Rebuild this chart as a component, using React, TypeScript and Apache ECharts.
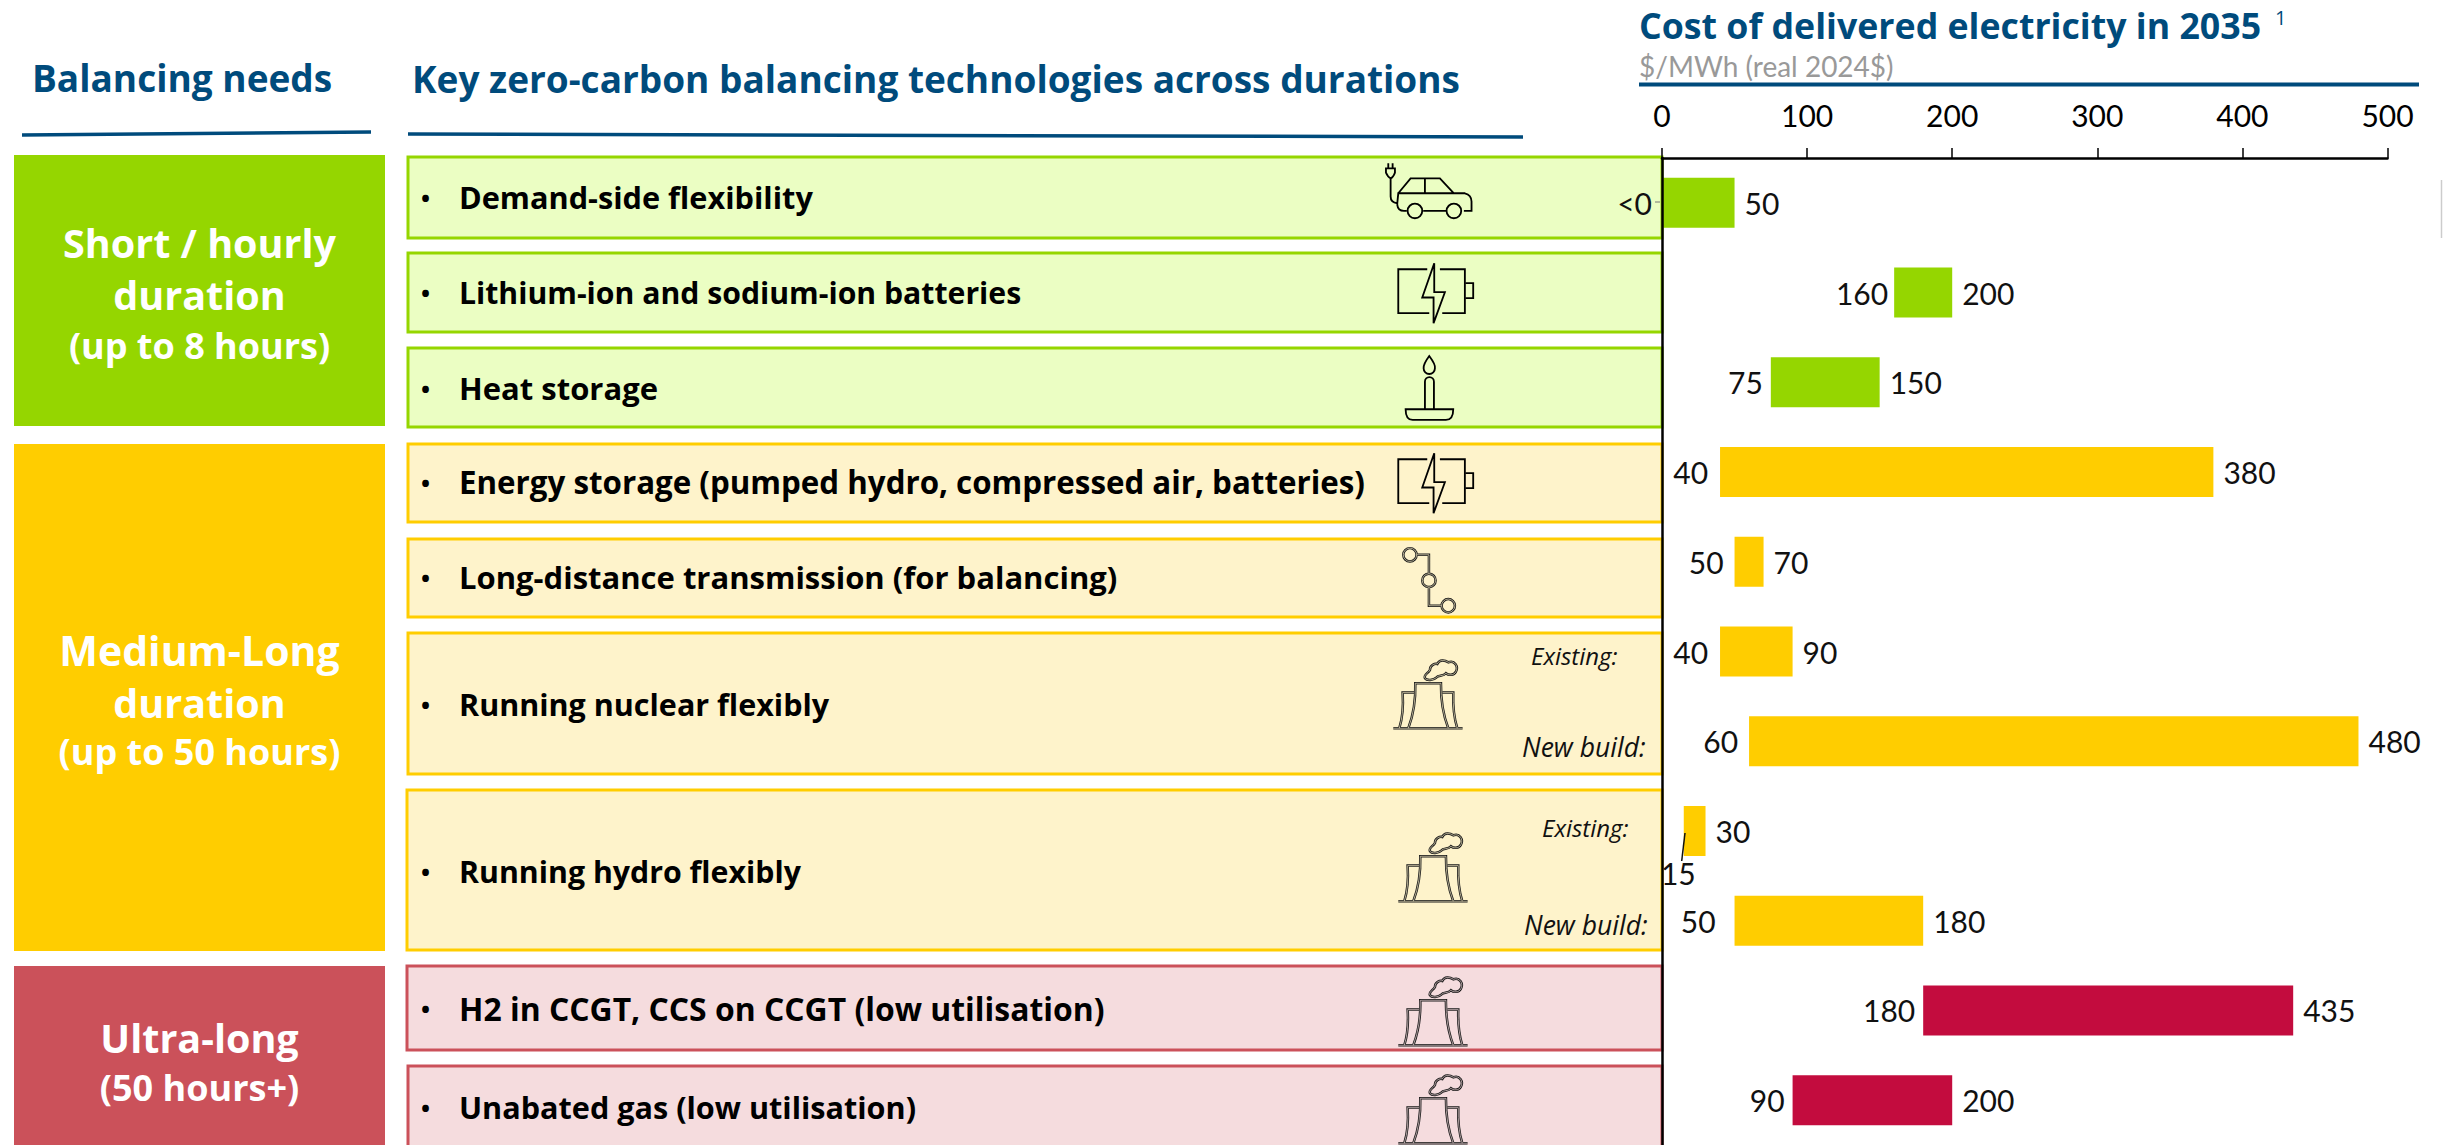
import React, { useEffect, useRef } from "react";
import * as echarts from "echarts";

const categories = [
  "Demand-side flexibility",
  "Lithium-ion and sodium-ion batteries",
  "Heat storage",
  "Energy storage",
  "Long-distance transmission",
  "Nuclear existing",
  "Nuclear new build",
  "Hydro existing",
  "Hydro new build",
  "H2 in CCGT, CCS on CCGT",
  "Unabated gas",
];
const lowValues = [0, 160, 75, 40, 50, 40, 60, 15, 50, 180, 90];
const highValues = [50, 200, 150, 380, 70, 90, 480, 30, 180, 435, 200];
const lowLabels = ["<0", "160", "75", "40", "50", "40", "60", "15", "50", "180", "90"];
const barGroups = ["g", "g", "g", "y", "y", "y", "y", "y", "y", "r", "r"];
const xTicks = [0, 100, 200, 300, 400, 500];

const FONT = "Lato";
const FONT_B = "Open Sans";
const BLUE = "#004B7C";
const BLACK = "#000000";
const GREEN = "#95D600";
const YELLOW = "#FFCD00";
const RED_BLOCK = "#CB515A";
const barColors: Record<string, string> = { g: GREEN, y: YELLOW, r: "#C30C3E" };
const theme: Record<string, { fill: string; stroke: string }> = {
  g: { fill: "#EBFEC3", stroke: GREEN },
  y: { fill: "#FEF3CB", stroke: YELLOW },
  r: { fill: "#F5DCDE", stroke: RED_BLOCK },
};

const blocks = [
  { y0: 155, y1: 426, color: GREEN, lines: [["Short / hourly", 243, 39.5], ["duration", 295, 39.5], ["(up to 8 hours)", 345, 36]] },
  { y0: 444, y1: 951, color: YELLOW, lines: [["Medium-Long", 650, 41], ["duration", 703, 39.5], ["(up to 50 hours)", 751, 36]] },
  { y0: 966, y1: 1150, color: RED_BLOCK, lines: [["Ultra-long", 1038, 39.5], ["(50 hours+)", 1087, 36]] },
];

const rows = [
  { x: 408, y0: 157, y1: 238, g: "g", text: "Demand-side flexibility", ty: 197, size: 30.7 },
  { x: 408, y0: 253, y1: 332, g: "g", text: "Lithium-ion and sodium-ion batteries", ty: 292, size: 30.2 },
  { x: 408, y0: 348, y1: 427, g: "g", text: "Heat storage", ty: 388, size: 31 },
  { x: 408, y0: 444, y1: 522, g: "y", text: "Energy storage (pumped hydro, compressed air, batteries)", ty: 482, size: 31.3 },
  { x: 408, y0: 539, y1: 617, g: "y", text: "Long-distance transmission (for balancing)", ty: 577, size: 31 },
  { x: 408, y0: 633, y1: 774, g: "y", text: "Running nuclear flexibly", ty: 704, size: 30.5 },
  { x: 407, y0: 790, y1: 950, g: "y", text: "Running hydro flexibly", ty: 871, size: 30.3 },
  { x: 407, y0: 966, y1: 1050, g: "r", text: "H2 in CCGT, CCS on CCGT (low utilisation)", ty: 1008, size: 31.9 },
  { x: 408, y0: 1066, y1: 1160, g: "r", text: "Unabated gas (low utilisation)", ty: 1107, size: 30.6 },
];

const notes = [
  ["Existing:", 1531, 655, 24],
  ["New build:", 1522, 747, 26.5],
  ["Existing:", 1542, 827, 24],
  ["New build:", 1524, 925, 26.5],
];

const carPath =
  "M145 40L145 55M158 40L158 55M138 55L165 55L165 68Q160 82 152 85Q144 82 138 68ZM152 85L152 140Q152 158 172 160L172 165Q174 183 192 183L200 183" +
  "M172 160L175 130L375 130Q395 135 395 155L395 183L372 183M175 130L212 85L300 85L342 130M255 85L255 130M250 183L318 183" +
  "M247 183A22 22 0 1 1 203 183A22 22 0 1 1 247 183ZM364 183A22 22 0 1 1 320 183A22 22 0 1 1 364 183Z";
const batteryPath =
  "M262 358L175 358L175 490L268 490M300 358L375 358L375 490L307 490M378 400L400 400L400 445L378 445" +
  "M283 340L247 443L281 443L281 520L315 427L283 427Z";
const candlePath =
  "M208 48Q228 75 225 85A17 17 0 0 1 191 85Q190 72 208 48ZM195 208L195 125A13.5 13.5 0 0 1 222 125L222 208" +
  "M137 208L280 208Q280 240 258 240L158 240Q137 240 137 208Z";
const linkPath =
  "M170 645A20 20 0 1 1 130 645A20 20 0 1 1 170 645ZM227 722A20 20 0 1 1 187 722A20 20 0 1 1 227 722ZM285 798A20 20 0 1 1 245 798A20 20 0 1 1 285 798Z" +
  "M170 645L207 645L207 702M207 742L207 798L245 798";
const towerPath =
  "M40 325L248 325M85 325Q108 265 106 190L183 190Q182 265 205 325M58 325Q72 280 68 218L102 218M188 218L220 218Q218 280 232 325" +
  "M135 175C130 165 145 160 150 150C150 135 165 130 172 132C178 118 195 120 205 127C225 120 236 140 228 155C222 168 205 166 198 160C190 170 175 165 170 172C160 182 140 182 135 175Z";

echarts.graphic.registerShape("iconCar", echarts.graphic.extendPath(carPath, {}));
echarts.graphic.registerShape("iconBattery", echarts.graphic.extendPath(batteryPath, {}));
echarts.graphic.registerShape("iconCandle", echarts.graphic.extendPath(candlePath, {}));
echarts.graphic.registerShape("iconLink", echarts.graphic.extendPath(linkPath, {}));
echarts.graphic.registerShape("iconTower", echarts.graphic.extendPath(towerPath, {}));

const solidIcons = [
  ["iconCar", 1340, 150],
  ["iconBattery", 1340, 150],
  ["iconCandle", 1360, 340],
  ["iconBattery", 1340, 340],
];
const hollowIcons = [
  ["iconLink", 1360, 340, "y"],
  ["iconTower", 1380, 620, "y"],
  ["iconTower", 1385, 793, "y"],
  ["iconTower", 1385, 937, "r"],
  ["iconTower", 1385, 1035, "r"],
];

function text(str: string, x: number, y: number, size: number, color: string, extra: any = {}) {
  return {
    type: "text",
    x,
    y,
    z: 3,
    silent: true,
    style: {
      text: str,
      fill: color,
      fontFamily: extra.family ?? FONT_B,
      fontSize: size,
      fontWeight: extra.weight ?? "normal",
      fontStyle: extra.italic ? "italic" : "normal",
      textAlign: extra.align ?? "left",
      textVerticalAlign: "middle",
      verticalAlign: "middle",
    },
  };
}

function line(x1: number, y1: number, x2: number, y2: number, color: string, width: number, z = 3) {
  return {
    type: "line",
    z,
    silent: true,
    shape: { x1, y1, x2, y2 },
    style: { stroke: color, lineWidth: width },
  };
}

function buildGraphics() {
  const out: any[] = [];
  blocks.forEach((b) => {
    out.push({
      type: "rect",
      z: 0,
      silent: true,
      shape: { x: 14, y: b.y0, width: 371, height: b.y1 - b.y0 },
      style: { fill: b.color },
    });
    b.lines.forEach((l) =>
      out.push(text(l[0] as string, 199.5, l[1] as number, l[2] as number, "#FFFFFF", { weight: "bold", align: "center" }))
    );
  });
  rows.forEach((r) => {
    const t = theme[r.g];
    out.push({
      type: "rect",
      z: 0,
      silent: true,
      shape: { x: r.x, y: r.y0, width: 1662 - r.x, height: r.y1 - r.y0 },
      style: { fill: t.fill, stroke: t.stroke, lineWidth: 3 },
    });
    out.push(text("•", 421, r.ty, 24, BLACK, { weight: "bold" }));
    out.push(text(r.text, 459, r.ty, r.size, BLACK, { weight: "bold" }));
  });
  notes.forEach((n) => out.push(text(n[0] as string, n[1] as number, n[2] as number, n[3] as number, "#111111", { italic: true })));
  solidIcons.forEach((i) =>
    out.push({
      type: i[0],
      x: i[1],
      y: i[2],
      scaleX: 1 / 3,
      scaleY: 1 / 3,
      z: 2,
      silent: true,
      style: { fill: "none", stroke: BLACK, lineWidth: 5.5 },
    })
  );
  hollowIcons.forEach((i) => {
    const base = { type: i[0], x: i[1], y: i[2], scaleX: 1 / 3, scaleY: 1 / 3, silent: true };
    out.push({ ...base, z: 2, style: { fill: "none", stroke: "#1A1A1A", lineWidth: 7.5 } });
    out.push({ ...base, z: 2, style: { fill: "none", stroke: theme[i[3] as string].fill, lineWidth: 2 } });
  });

  out.push(text("Balancing needs", 32, 77, 37, BLUE, { weight: "bold" }));
  out.push(text("Key zero-carbon balancing technologies across durations", 412, 78, 37, BLUE, { weight: "bold" }));
  out.push(text("Cost of delivered electricity in 2035", 1639, 25, 35.7, BLUE, { weight: "bold" }));
  out.push(text("1", 2275, 17, 20, BLUE));
  out.push(text("$/MWh (real 2024$)", 1639, 66, 28, "#999999", { family: FONT }));
  out.push(line(22, 135, 371, 132, BLUE, 3.5));
  out.push(line(408, 134, 1523, 137, BLUE, 3.5));
  out.push(line(1639, 84.5, 2419, 84.5, BLUE, 4));
  out.push(line(1660, 202, 1655, 202, "#777777", 1));
  out.push(line(1685, 833, 1681.7, 861, "#111111", 1.5, 6));
  out.push(line(2441.5, 180, 2441.5, 238, "#CCCCCC", 1.5));
  return out;
}

export default function App() {
  const ref = useRef<HTMLDivElement>(null);
  useEffect(() => {
    document.body.style.margin = "0";
    const chart = echarts.init(ref.current!, null, { renderer: "svg" });
    const labelStyle = { color: "#111111", fontFamily: FONT, fontSize: 30 };
    const lowOffsets = [[-2, 0], [2, 0], [0, 0], [-4, 0], [-3, 0], [-4, 0], [-3, 0], [20, 42], [-11, 0], [0, 0], [0, 0]];
    chart.setOption({
      animation: false,
      backgroundColor: "#FFFFFF",
      textStyle: { fontFamily: FONT },
      grid: { left: 1662, top: 158, width: 725.5, height: 990, containLabel: false },
      xAxis: {
        type: "value",
        position: "top",
        min: 0,
        max: 500,
        interval: 100,
        z: 5,
        splitLine: { show: false },
        axisLine: { show: true, lineStyle: { color: BLACK, width: 2.5 } },
        axisTick: { show: true, length: 10, lineStyle: { color: BLACK, width: 1.5 } },
        axisLabel: {
          margin: 28,
          color: BLACK,
          fontFamily: FONT,
          fontSize: 30,
          formatter: (v: number) => (xTicks.includes(v) ? String(v) : ""),
        },
      },
      yAxis: {
        type: "category",
        inverse: true,
        data: categories,
        z: 5,
        axisLine: { show: true, lineStyle: { color: BLACK, width: 2.5 } },
        axisTick: { show: false },
        axisLabel: { show: false },
        splitLine: { show: false },
      },
      series: [
        {
          name: "Low",
          type: "bar",
          stack: "range",
          barWidth: 50,
          itemStyle: { color: "transparent" },
          z: 4,
          data: lowValues.map((v, i) => ({
            value: v,
            label: {
              show: true,
              position: "insideRight",
              distance: 8,
              formatter: lowLabels[i],
              ...labelStyle,
              offset: lowOffsets[i],
            },
          })),
        },
        {
          name: "Cost range",
          type: "bar",
          stack: "range",
          barWidth: 50,
          z: 4,
          data: highValues.map((v, i) => ({
            value: v - lowValues[i],
            itemStyle: { color: barColors[barGroups[i]] },
            label: {
              show: true,
              position: "right",
              distance: 10,
              formatter: String(v),
              ...labelStyle,
            },
          })),
        },
      ],
      graphic: { elements: buildGraphics() },
    });
    return () => chart.dispose();
  }, []);
  return <div ref={ref} style={{ position: "absolute", left: 0, top: 0, width: 2443, height: 1145, overflow: "hidden" }} />;
}
